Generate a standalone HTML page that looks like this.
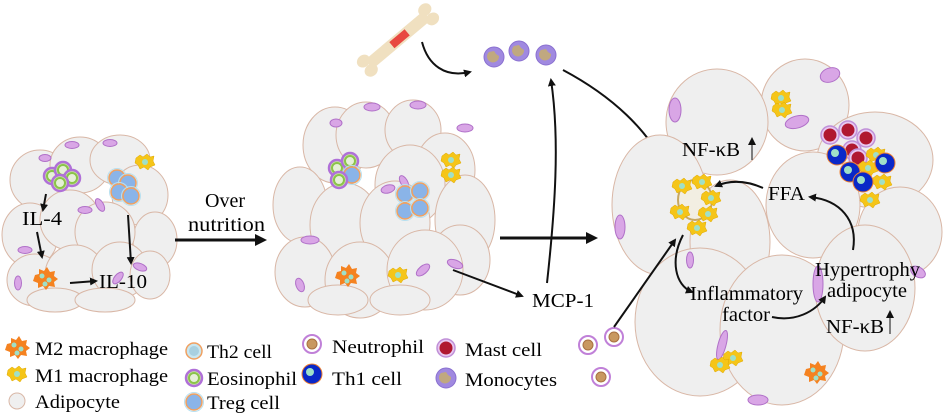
<!DOCTYPE html>
<html><head><meta charset="utf-8"><style>
html,body{margin:0;padding:0;background:#fff;}
svg{display:block;font-family:"Liberation Serif",serif;}
.c{fill:#efefef;stroke:#d9b7a6;stroke-width:1;}
.n{fill:#d9a6e6;stroke:#b070c8;stroke-width:1;}
.a{fill:none;stroke:#111;stroke-width:2;}
.t{font-size:20px;fill:#000;}
.l{font-size:19px;fill:#000;}
</style></head><body>
<svg width="945" height="420" viewBox="0 0 945 420" xmlns="http://www.w3.org/2000/svg">
<defs>
<marker id="m" markerWidth="8" markerHeight="8" refX="6" refY="4" orient="auto" markerUnits="userSpaceOnUse"><path d="M0,0 L8,4 L0,8 Z" fill="#111"/></marker>
<marker id="mb" markerWidth="12" markerHeight="12" refX="9" refY="6" orient="auto" markerUnits="userSpaceOnUse"><path d="M0,0 L12,6 L0,12 Z" fill="#111"/></marker>
<g id="m1"><path d="M-9,-4 L-5,-7 L-2,-5 L2,-8 L5,-5 L9,-6 L8,-1 L10,3 L5,5 L3,8 L-1,5 L-5,7 L-7,3 L-10,1 Z" fill="#f5c518" stroke="#e0a800" stroke-width="0.5"/><circle r="3" fill="#9fe0c8"/></g>
<g id="m2"><path d="M-10,-3 L-6,-4 L-6,-9 L-1,-7 L2,-11 L5,-6 L10,-7 L9,-2 L13,1 L9,4 L10,9 L4,8 L1,12 L-2,8 L-7,10 L-7,5 L-12,3 Z" fill="#f58220"/><circle cx="-3" cy="-2" r="2.5" fill="#9fe0c8"/><circle cx="4" cy="2" r="2.5" fill="#9fe0c8"/><circle cx="0" cy="6" r="2.5" fill="#9fe0c8"/></g>
<g id="th2"><circle r="8" fill="#c8e6a0" stroke="#b070d8" stroke-width="2.5"/><circle r="5" fill="#e6f0d8" stroke="#8bc34a" stroke-width="2"/></g>
<g id="tr"><circle r="8" fill="#8ab4e8" stroke="#f0a060" stroke-width="1.5"/><circle r="9.5" fill="none" stroke="#b8e0f0" stroke-width="1"/></g>
<g id="mo"><circle r="10" fill="#a089e0" stroke="#8a70d0"/><path d="M-5,-5 A6,6 0 1 0 5,-1 L2,-3 L0,-6 Z" fill="#c0a880"/></g>
<g id="ne"><circle r="9" fill="#fff" stroke="#c080d8" stroke-width="2"/><circle r="5" fill="#c89860" stroke="#a87040"/></g>
<g id="ma"><circle r="9" fill="#e8c8f0" stroke="#c090d8" stroke-width="1.5"/><circle r="6.5" fill="#b01830"/></g>
<g id="t1"><circle r="10" fill="#0a28c8" stroke="#f08030" stroke-width="1"/><circle cx="-2" cy="-2" r="4" fill="#9fe0c8"/></g>
</defs>

<!-- LEFT CLUSTER -->
<g>
<ellipse class="c" cx="40" cy="180" rx="30" ry="30"/>
<ellipse class="c" cx="80" cy="165" rx="30" ry="28"/>
<ellipse class="c" cx="120" cy="160" rx="30" ry="25"/>
<ellipse class="c" cx="140" cy="195" rx="28" ry="30"/>
<ellipse class="c" cx="155" cy="240" rx="22" ry="28"/>
<ellipse class="c" cx="30" cy="235" rx="28" ry="32"/>
<ellipse class="c" cx="70" cy="220" rx="30" ry="30"/>
<ellipse class="c" cx="105" cy="232" rx="30" ry="30"/>
<ellipse class="c" cx="35" cy="280" rx="28" ry="26"/>
<ellipse class="c" cx="75" cy="275" rx="30" ry="30"/>
<ellipse class="c" cx="120" cy="270" rx="28" ry="28"/>
<ellipse class="c" cx="150" cy="275" rx="20" ry="24"/>
<ellipse class="c" cx="55" cy="300" rx="28" ry="12"/>
<ellipse class="c" cx="105" cy="300" rx="30" ry="12"/>
<ellipse class="n" cx="72" cy="145" rx="7" ry="3.5"/>
<ellipse class="n" cx="110" cy="143" rx="7" ry="3.5"/>
<ellipse class="n" cx="45" cy="158" rx="6" ry="3.5"/>
<ellipse class="n" cx="85" cy="210" rx="7" ry="3.5"/>
<ellipse class="n" cx="100" cy="205" rx="3.5" ry="7" transform="rotate(-30 100 205)"/>
<ellipse class="n" cx="25" cy="250" rx="7" ry="3.5"/>
<ellipse class="n" cx="140" cy="267" rx="7" ry="3.5" transform="rotate(20 140 267)"/>
<ellipse class="n" cx="18" cy="283" rx="3.5" ry="7"/>
<ellipse class="n" cx="118" cy="278" rx="3.5" ry="7" transform="rotate(40 118 278)"/>
<use href="#th2" x="52" y="176"/><use href="#th2" x="63" y="170"/><use href="#th2" x="72" y="178"/><use href="#th2" x="60" y="183"/>
<use href="#tr" x="117" y="178"/><use href="#tr" x="128" y="183"/><use href="#tr" x="119" y="192"/><use href="#tr" x="131" y="196"/>
<use href="#m1" x="145" y="162"/>
<use href="#m2" x="45" y="278"/>
<path class="a" d="M46,194 L43,210" marker-end="url(#m)"/>
<path class="a" d="M37,232 L42,257" marker-end="url(#m)"/>
<path class="a" d="M128,215 L131,263" marker-end="url(#m)"/>
<path class="a" d="M70,283 L96,281" marker-end="url(#m)"/>
<text class="t" x="22" y="225" textLength="40" lengthAdjust="spacingAndGlyphs">IL-4</text>
<text class="t" x="99" y="288" textLength="48" lengthAdjust="spacingAndGlyphs">IL-10</text>
</g>

<text class="t" x="205" y="207" textLength="40" lengthAdjust="spacingAndGlyphs">Over</text>
<text class="t" x="188" y="231" textLength="77" lengthAdjust="spacingAndGlyphs">nutrition</text>
<path d="M175,240 L264,240" stroke="#111" stroke-width="3" fill="none" marker-end="url(#mb)"/>

<!-- MIDDLE CLUSTER -->
<g>
<ellipse class="c" cx="335" cy="145" rx="32" ry="38"/>
<ellipse class="c" cx="366" cy="135" rx="30" ry="33"/>
<ellipse class="c" cx="413" cy="130" rx="28" ry="30"/>
<ellipse class="c" cx="445" cy="170" rx="30" ry="37"/>
<ellipse class="c" cx="300" cy="205" rx="27" ry="38"/>
<ellipse class="c" cx="410" cy="185" rx="35" ry="40"/>
<ellipse class="c" cx="465" cy="220" rx="30" ry="45"/>
<ellipse class="c" cx="345" cy="225" rx="35" ry="42"/>
<ellipse class="c" cx="395" cy="223" rx="35" ry="42"/>
<ellipse class="c" cx="460" cy="260" rx="30" ry="35"/>
<ellipse class="c" cx="305" cy="272" rx="30" ry="35"/>
<ellipse class="c" cx="360" cy="280" rx="35" ry="38"/>
<ellipse class="c" cx="425" cy="270" rx="38" ry="40"/>
<ellipse class="c" cx="338" cy="300" rx="30" ry="15"/>
<ellipse class="c" cx="400" cy="300" rx="30" ry="15"/>
<ellipse class="n" cx="372" cy="107" rx="8" ry="4"/>
<ellipse class="n" cx="418" cy="105" rx="8" ry="4"/>
<ellipse class="n" cx="336" cy="123" rx="6" ry="4"/>
<ellipse class="n" cx="465" cy="128" rx="8" ry="4"/>
<ellipse class="n" cx="388" cy="189" rx="7" ry="4" transform="rotate(-15 388 189)"/>
<ellipse class="n" cx="404" cy="182" rx="3.5" ry="7" transform="rotate(-30 404 182)"/>
<ellipse class="n" cx="310" cy="240" rx="9" ry="4"/>
<ellipse class="n" cx="455" cy="264" rx="8" ry="4" transform="rotate(20 455 264)"/>
<ellipse class="n" cx="423" cy="270" rx="4" ry="8" transform="rotate(50 423 270)"/>
<ellipse class="n" cx="300" cy="285" rx="4" ry="7" transform="rotate(-20 300 285)"/>
<use href="#th2" x="337" y="168"/><use href="#th2" x="350" y="161"/><use href="#tr" x="352" y="175"/><use href="#th2" x="339" y="180"/>
<use href="#tr" x="405" y="194"/><use href="#tr" x="420" y="191"/><use href="#tr" x="405" y="211"/><use href="#tr" x="420" y="208"/>
<use href="#m1" x="451" y="160"/><use href="#m1" x="451" y="175"/>
<use href="#m2" x="347" y="275"/>
<use href="#m1" x="398" y="275"/>
</g>

<!-- bone -->
<g transform="translate(398,40) rotate(-40)">
<rect x="-38" y="-6" width="76" height="12" fill="#f0e0c0"/>
<ellipse cx="-40" cy="-6" rx="7" ry="6" fill="#f0e0c0"/><ellipse cx="-40" cy="6" rx="7" ry="6" fill="#f0e0c0"/>
<ellipse cx="40" cy="-6" rx="7" ry="6" fill="#f0e0c0"/><ellipse cx="40" cy="6" rx="7" ry="6" fill="#f0e0c0"/>
<rect x="-8" y="-4" width="20" height="8" fill="#e84840"/>
</g>
<path class="a" d="M422,42 C428,65 445,78 470,72" marker-end="url(#m)"/>
<use href="#mo" x="494" y="57"/><use href="#mo" x="519" y="51"/><use href="#mo" x="546" y="55"/>

<path class="a" d="M453,270 L522,296" marker-end="url(#m)"/>
<text class="t" x="532" y="307" textLength="62" lengthAdjust="spacingAndGlyphs">MCP-1</text>
<path class="a" d="M547,283 C555,210 560,140 551,80" marker-end="url(#m)"/>
<path d="M500,238 L595,238" stroke="#111" stroke-width="3" fill="none" marker-end="url(#mb)"/>
<path class="a" d="M563,70 C610,95 650,130 668,173" marker-end="url(#m)"/>

<!-- RIGHT CLUSTER -->
<g>
<ellipse class="c" cx="805" cy="105" rx="44" ry="46"/>
<ellipse class="c" cx="717" cy="122" rx="51" ry="53"/>
<ellipse class="c" cx="875" cy="160" rx="58" ry="48"/>
<ellipse class="c" cx="660" cy="205" rx="48" ry="70"/>
<ellipse class="c" cx="900" cy="232" rx="42" ry="45"/>
<ellipse class="c" cx="813" cy="205" rx="47" ry="53"/>
<ellipse class="c" cx="730" cy="242" rx="40" ry="62"/>
<ellipse class="c" cx="700" cy="322" rx="65" ry="74"/>
<ellipse class="c" cx="782" cy="330" rx="62" ry="75"/>
<ellipse class="c" cx="865" cy="288" rx="50" ry="63"/>
<ellipse class="n" cx="675" cy="110" rx="6" ry="12"/>
<ellipse class="n" cx="830" cy="75" rx="10" ry="7" transform="rotate(-20 830 75)"/>
<ellipse class="n" cx="797" cy="122" rx="12" ry="6" transform="rotate(-15 797 122)"/>
<ellipse class="n" cx="620" cy="227" rx="5" ry="12"/>
<ellipse class="n" cx="690" cy="260" rx="3.5" ry="8"/>
<ellipse class="n" cx="818" cy="284" rx="5" ry="18"/>
<ellipse class="n" cx="918" cy="272" rx="8" ry="5" transform="rotate(30 918 272)"/>
<ellipse class="n" cx="722" cy="345" rx="4" ry="15" transform="rotate(15 722 345)"/>
<ellipse class="n" cx="758" cy="400" rx="10" ry="5"/>
<use href="#m1" x="781" y="98"/><use href="#m1" x="782" y="110"/>
<use href="#ma" x="830" y="135"/><use href="#ma" x="848" y="130"/><use href="#ma" x="866" y="138"/><use href="#ma" x="852" y="150"/><use href="#ma" x="858" y="158"/>
<use href="#m1" x="876" y="155"/><use href="#m1" x="868" y="168"/><use href="#m1" x="882" y="182"/><use href="#m1" x="870" y="200"/>
<use href="#t1" x="837" y="155"/><use href="#t1" x="885" y="163"/><use href="#t1" x="850" y="172"/><use href="#t1" x="863" y="182"/>
<ellipse cx="695" cy="200" rx="17" ry="20" fill="#f2eee2" stroke="#c8a860" stroke-width="2"/>
<use href="#m1" x="682" y="186"/><use href="#m1" x="702" y="182"/><use href="#m1" x="711" y="198"/><use href="#m1" x="680" y="212"/><use href="#m1" x="708" y="214"/><use href="#m1" x="697" y="228"/>
<use href="#m1" x="733" y="358"/><use href="#m1" x="720" y="365"/>
<use href="#m2" x="816" y="372"/>
<use href="#ne" x="614" y="337"/><use href="#ne" x="601" y="377"/><use href="#ne" x="588" y="345"/>
<path class="a" d="M614,327 L675,240" marker-end="url(#m)"/>
<path class="a" d="M683,235 C670,260 675,285 692,292" marker-end="url(#m)"/>
<path class="a" d="M772,317 C795,322 815,312 825,297" marker-end="url(#m)"/>
<path class="a" d="M853,250 C858,220 840,200 810,197" marker-end="url(#m)"/>
<path class="a" d="M763,188 C745,180 730,180 716,186" marker-end="url(#m)"/>
<text class="t" x="682" y="156" textLength="58" lengthAdjust="spacingAndGlyphs">NF-κB</text>
<path d="M752,160 L752,139" stroke="#333" stroke-width="1.2" marker-end="url(#m)"/>
<text class="t" x="768" y="200" textLength="37" lengthAdjust="spacingAndGlyphs">FFA</text>
<text class="t" x="815" y="276" textLength="105" lengthAdjust="spacingAndGlyphs">Hypertrophy</text>
<text class="t" x="827" y="297" textLength="80" lengthAdjust="spacingAndGlyphs">adipocyte</text>
<text class="t" x="690" y="300" textLength="113" lengthAdjust="spacingAndGlyphs">Inflammatory</text>
<text class="t" x="722" y="321" textLength="48" lengthAdjust="spacingAndGlyphs">factor</text>
<text class="t" x="826" y="333" textLength="58" lengthAdjust="spacingAndGlyphs">NF-κB</text>
<path d="M890,334 L890,312" stroke="#333" stroke-width="1.2" marker-end="url(#m)"/>
</g>

<!-- LEGEND -->
<use href="#m2" x="17" y="347"/>
<text class="l" x="35" y="355" textLength="133" lengthAdjust="spacingAndGlyphs">M2 macrophage</text>
<use href="#m1" x="17" y="374"/>
<text class="l" x="35" y="382" textLength="133" lengthAdjust="spacingAndGlyphs">M1 macrophage</text>
<ellipse class="c" cx="17" cy="401" rx="8" ry="8"/>
<text class="l" x="35" y="408" textLength="85" lengthAdjust="spacingAndGlyphs">Adipocyte</text>
<circle cx="194" cy="351" r="8" fill="#c8e6f0" stroke="#f0a060" stroke-width="1.5"/><circle cx="194" cy="351" r="5" fill="#a8d0e0"/>
<text class="l" x="207" y="358" textLength="65" lengthAdjust="spacingAndGlyphs">Th2 cell</text>
<use href="#th2" x="194" y="378"/>
<text class="l" x="207" y="385" textLength="90" lengthAdjust="spacingAndGlyphs">Eosinophil</text>
<use href="#tr" x="194" y="402"/>
<text class="l" x="207" y="409" textLength="73" lengthAdjust="spacingAndGlyphs">Treg cell</text>
<use href="#ne" x="312" y="344"/>
<text class="l" x="332" y="353" textLength="92" lengthAdjust="spacingAndGlyphs">Neutrophil</text>
<use href="#t1" x="312" y="374"/>
<text class="l" x="332" y="385" textLength="70" lengthAdjust="spacingAndGlyphs">Th1 cell</text>
<use href="#ma" x="446" y="348"/>
<text class="l" x="465" y="356" textLength="77" lengthAdjust="spacingAndGlyphs">Mast cell</text>
<use href="#mo" x="446" y="378"/>
<text class="l" x="465" y="386" textLength="92" lengthAdjust="spacingAndGlyphs">Monocytes</text>
</svg>
</body></html>
